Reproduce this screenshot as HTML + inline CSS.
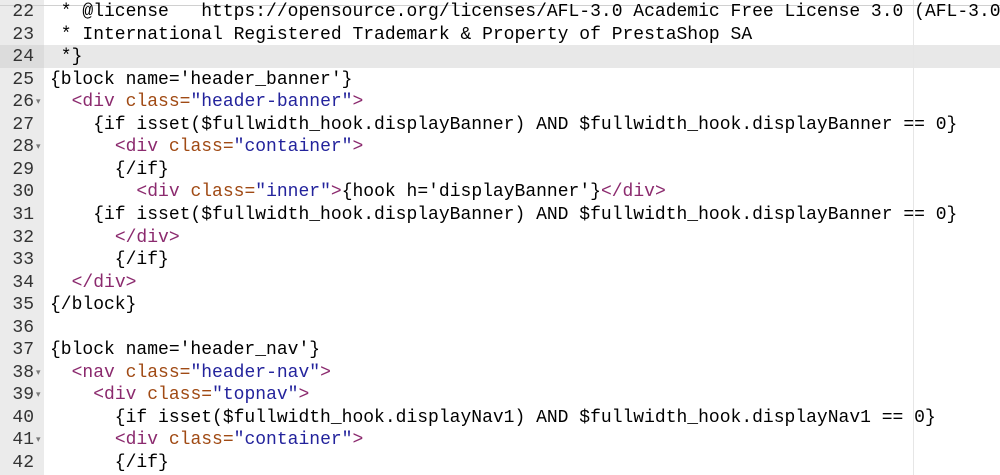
<!DOCTYPE html>
<html><head><style>
html,body{margin:0;padding:0;background:#fff;width:1000px;height:475px;overflow:hidden}
.ed{position:absolute;left:0;top:0;width:1000px;height:475px;font-family:"Liberation Mono",monospace;font-size:18px}
.gut{position:absolute;left:0;top:0;width:44px;height:475px;background:#ebebeb}
.top{position:absolute;left:0;top:5px;width:1000px;height:1px;background:#d0d0d0}
.pm{position:absolute;left:913px;top:0;width:1px;height:475px;background:#e6e6e6}
.hl{position:absolute;left:0;top:45px;width:1000px;height:23px;background:#e8e8e8}
.hlg{position:absolute;left:0;top:45px;width:44px;height:23px;background:#dcdcdc}
.ln{position:absolute;left:0;height:22.55px;line-height:22.55px;white-space:pre}
.n{position:absolute;left:0;width:34px;text-align:right;color:#333}
.f{position:absolute;left:36px;font-size:9px;color:#777}
.c{position:absolute;left:50px;color:#000}
.t{color:#8b2a6e}.a{color:#a04a14}.s{color:#23239c}
</style></head><body><div class="ed">
<div class="gut"></div><div class="hl"></div><div class="hlg"></div><div class="pm"></div><div class="top"></div>
<div class="ln" style="top:1px"><span class="n">22</span><span class="c"> * @license   https://opensource.org/licenses/AFL-3.0 Academic Free License 3.0 (AFL-3.0)</span></div>
<div class="ln" style="top:23.55px"><span class="n">23</span><span class="c"> * International Registered Trademark &amp; Property of PrestaShop SA</span></div>
<div class="ln" style="top:46.1px"><span class="n">24</span><span class="c"> *}</span></div>
<div class="ln" style="top:68.65px"><span class="n">25</span><span class="c">{block name='header_banner'}</span></div>
<div class="ln" style="top:91.2px"><span class="n">26</span><span class="f">▾</span><span class="c">  <span class="t">&lt;div</span> <span class="a">class=</span><span class="s">"header-banner"</span><span class="t">&gt;</span></span></div>
<div class="ln" style="top:113.75px"><span class="n">27</span><span class="c">    {if isset($fullwidth_hook.displayBanner) AND $fullwidth_hook.displayBanner == 0}</span></div>
<div class="ln" style="top:136.3px"><span class="n">28</span><span class="f">▾</span><span class="c">      <span class="t">&lt;div</span> <span class="a">class=</span><span class="s">"container"</span><span class="t">&gt;</span></span></div>
<div class="ln" style="top:158.85px"><span class="n">29</span><span class="c">      {/if}</span></div>
<div class="ln" style="top:181.4px"><span class="n">30</span><span class="c">        <span class="t">&lt;div</span> <span class="a">class=</span><span class="s">"inner"</span><span class="t">&gt;</span>{hook h='displayBanner'}<span class="t">&lt;/div&gt;</span></span></div>
<div class="ln" style="top:203.95px"><span class="n">31</span><span class="c">    {if isset($fullwidth_hook.displayBanner) AND $fullwidth_hook.displayBanner == 0}</span></div>
<div class="ln" style="top:226.5px"><span class="n">32</span><span class="c">      <span class="t">&lt;/div&gt;</span></span></div>
<div class="ln" style="top:249.05px"><span class="n">33</span><span class="c">      {/if}</span></div>
<div class="ln" style="top:271.6px"><span class="n">34</span><span class="c">  <span class="t">&lt;/div&gt;</span></span></div>
<div class="ln" style="top:294.15px"><span class="n">35</span><span class="c">{/block}</span></div>
<div class="ln" style="top:316.7px"><span class="n">36</span></div>
<div class="ln" style="top:339.25px"><span class="n">37</span><span class="c">{block name='header_nav'}</span></div>
<div class="ln" style="top:361.8px"><span class="n">38</span><span class="f">▾</span><span class="c">  <span class="t">&lt;nav</span> <span class="a">class=</span><span class="s">"header-nav"</span><span class="t">&gt;</span></span></div>
<div class="ln" style="top:384.35px"><span class="n">39</span><span class="f">▾</span><span class="c">    <span class="t">&lt;div</span> <span class="a">class=</span><span class="s">"topnav"</span><span class="t">&gt;</span></span></div>
<div class="ln" style="top:406.9px"><span class="n">40</span><span class="c">      {if isset($fullwidth_hook.displayNav1) AND $fullwidth_hook.displayNav1 == 0}</span></div>
<div class="ln" style="top:429.45px"><span class="n">41</span><span class="f">▾</span><span class="c">      <span class="t">&lt;div</span> <span class="a">class=</span><span class="s">"container"</span><span class="t">&gt;</span></span></div>
<div class="ln" style="top:452px"><span class="n">42</span><span class="c">      {/if}</span></div>
</div></body></html>
